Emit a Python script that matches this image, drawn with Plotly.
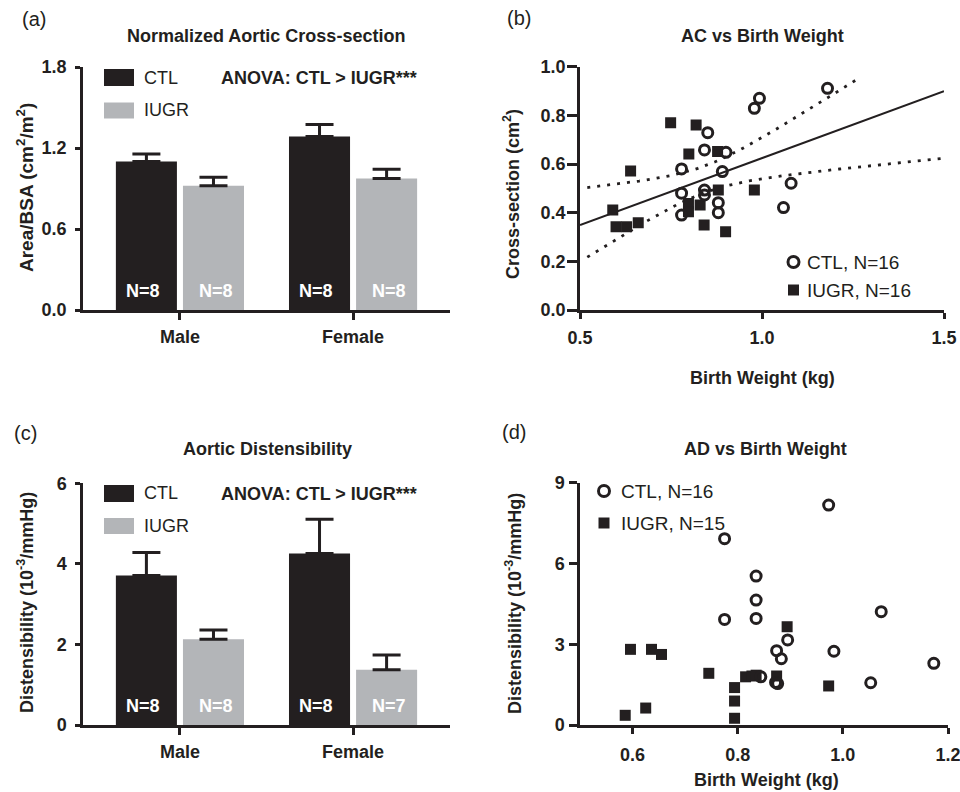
import numpy as np
import plotly.graph_objects as go

W, H = 960, 792
INK = "#231f20"
GRAY = "#b3b5b8"
FONT = "Liberation Sans, Arial, Helvetica, sans-serif"

# ---------------- data ----------------
groups = ["Male", "Female"]

# (a) Normalized aortic cross-section (cm^2/m^2), mean and SEM
ac_ctl_mean = [1.10, 1.285]
ac_ctl_sem = [0.055, 0.09]
ac_iugr_mean = [0.92, 0.975]
ac_iugr_sem = [0.063, 0.067]
ac_ctl_n = [8, 8]
ac_iugr_n = [8, 8]

# (c) Aortic distensibility (10^-3/mmHg), mean and SEM
ad_ctl_mean = [3.71, 4.26]
ad_ctl_sem = [0.57, 0.85]
ad_iugr_mean = [2.13, 1.37]
ad_iugr_sem = [0.23, 0.37]
ad_ctl_n = [8, 8]
ad_iugr_n = [8, 7]

# (b) AC vs birth weight
b_ctl_bw = [1.180, 0.979, 0.993, 0.851, 0.842, 0.901, 0.779, 0.891,
            0.779, 0.842, 0.842, 0.880, 0.779, 0.880, 1.080, 1.059]
b_ctl_ac = [0.911, 0.829, 0.870, 0.729, 0.658, 0.648, 0.580, 0.569,
            0.480, 0.493, 0.473, 0.441, 0.390, 0.400, 0.521, 0.421]
b_iugr_bw = [0.749, 0.819, 0.799, 0.878, 0.639, 0.590, 0.599, 0.628,
             0.660, 0.798, 0.798, 0.830, 0.841, 0.900, 0.880, 0.979]
b_iugr_ac = [0.770, 0.760, 0.641, 0.651, 0.571, 0.411, 0.342, 0.342,
             0.359, 0.438, 0.404, 0.432, 0.349, 0.322, 0.493, 0.493]

# (d) AD vs birth weight
d_ctl_bw = [0.973, 0.775, 0.835, 0.835, 0.835, 0.775, 1.073, 0.895,
            0.874, 0.883, 0.983, 1.173, 0.844, 0.872, 0.876, 1.053]
d_ctl_ad = [8.17, 6.92, 5.53, 4.64, 3.96, 3.92, 4.21, 3.16,
            2.76, 2.46, 2.74, 2.29, 1.79, 1.58, 1.54, 1.57]
d_iugr_bw = [0.596, 0.636, 0.655, 0.586, 0.625, 0.745, 0.794, 0.794,
             0.794, 0.815, 0.827, 0.835, 0.874, 0.894, 0.973]
d_iugr_ad = [2.81, 2.81, 2.62, 0.36, 0.63, 1.92, 1.39, 0.89,
             0.25, 1.79, 1.82, 1.85, 1.82, 3.65, 1.45]

# regression display ranges / stats constant
FIT_X = [0.5, 1.5]
UPPER_BAND_X = [0.52, 1.27]
LOWER_BAND_X = [0.52, 1.5]
T_CRIT_95_DF30 = 2.042


def PX(x):
    return x / W


def PY(y):
    return 1 - y / H


fig = go.Figure()

# ---------------- bar panels ----------------
def add_bars(xa, ya, ctl_m, ctl_e, iugr_m, iugr_e):
    for m, e, col in [(ctl_m, ctl_e, INK), (iugr_m, iugr_e, GRAY)]:
        fig.add_trace(go.Bar(
            x=groups, y=m, marker=dict(color=col, line=dict(width=0)),
            error_y=dict(type="data", array=e, arrayminus=[0] * len(e),
                         symmetric=False, color=INK, thickness=3, width=14),
            xaxis=xa, yaxis=ya, showlegend=False, hoverinfo="skip"))


add_bars("x", "y", ac_ctl_mean, ac_ctl_sem, ac_iugr_mean, ac_iugr_sem)
add_bars("x3", "y3", ad_ctl_mean, ad_ctl_sem, ad_iugr_mean, ad_iugr_sem)

# ---------------- scatter panels ----------------
circ = dict(symbol="circle-open", size=10, line=dict(width=3, color=INK), color=INK)
sq = dict(symbol="square", size=11, color=INK, line=dict(width=0))

x_all = np.array(b_ctl_bw + b_iugr_bw)
y_all = np.array(b_ctl_ac + b_iugr_ac)
slope, intercept = np.polyfit(x_all, y_all, 1)
n = len(x_all)
xbar = x_all.mean()
sxx = ((x_all - xbar) ** 2).sum()
resid = y_all - (intercept + slope * x_all)
s = np.sqrt((resid ** 2).sum() / (n - 2))


def half_width(x):
    return T_CRIT_95_DF30 * s * np.sqrt(1.0 / n + (x - xbar) ** 2 / sxx)


fx = np.array(FIT_X)
fig.add_trace(go.Scatter(x=fx, y=intercept + slope * fx, mode="lines",
                         line=dict(color=INK, width=2), xaxis="x2", yaxis="y2",
                         showlegend=False, hoverinfo="skip"))
ux = np.linspace(UPPER_BAND_X[0], UPPER_BAND_X[1], 80)
lx = np.linspace(LOWER_BAND_X[0], LOWER_BAND_X[1], 100)
fig.add_trace(go.Scatter(x=ux, y=intercept + slope * ux + half_width(ux), mode="lines",
                         line=dict(color=INK, width=2.8, dash="3px,7px"),
                         xaxis="x2", yaxis="y2", showlegend=False, hoverinfo="skip"))
fig.add_trace(go.Scatter(x=lx, y=intercept + slope * lx - half_width(lx), mode="lines",
                         line=dict(color=INK, width=2.8, dash="3px,7px"),
                         xaxis="x2", yaxis="y2", showlegend=False, hoverinfo="skip"))

fig.add_trace(go.Scatter(x=b_iugr_bw, y=b_iugr_ac, mode="markers", marker=sq,
                         xaxis="x2", yaxis="y2", showlegend=False))
fig.add_trace(go.Scatter(x=b_ctl_bw, y=b_ctl_ac, mode="markers", marker=circ,
                         xaxis="x2", yaxis="y2", showlegend=False))
fig.add_trace(go.Scatter(x=d_iugr_bw, y=d_iugr_ad, mode="markers", marker=sq,
                         xaxis="x4", yaxis="y4", showlegend=False))
fig.add_trace(go.Scatter(x=d_ctl_bw, y=d_ctl_ad, mode="markers", marker=circ,
                         xaxis="x4", yaxis="y4", showlegend=False))


# ---------------- axes ----------------
def tfont(size=18):
    return dict(family=FONT, size=size, color=INK, weight="bold")


def axis(domain, anchor, rng=None, ticklen=6, standoff=4, **kw):
    d = dict(domain=domain, anchor=anchor, showline=True, linewidth=2.5,
             linecolor=INK, ticks="outside", ticklen=ticklen, tickwidth=2.5,
             tickcolor=INK, tickfont=tfont(), showgrid=False, zeroline=False,
             ticklabelstandoff=standoff, automargin=False,
             ticklabeloverflow="allow")
    if rng is not None:
        d["range"] = rng
    d.update(kw)
    return d


xa_dom = [PX(83), PX(450)]
fig.update_layout(
    template="none",
    xaxis=axis(xa_dom, "y", [-0.56, 1.56], ticklen=7, standoff=2, type="category"),
    yaxis=axis([PY(310), PY(67)], "x", [0, 1.8], ticklen=5, standoff=5,
               tickvals=[0, 0.6, 1.2, 1.8], tickformat=".1f"),
    xaxis3=axis(xa_dom, "y3", [-0.56, 1.56], ticklen=7, standoff=2, type="category"),
    yaxis3=axis([PY(725), PY(483.3)], "x3", [0, 6], ticklen=5, standoff=5,
                tickvals=[0, 2, 4, 6]),
    xaxis2=axis([PX(580), PX(944)], "y2", [0.5, 1.5], ticklen=6, standoff=4,
                tickvals=[0.5, 1.0, 1.5], tickformat=".1f"),
    yaxis2=axis([PY(310), PY(66.7)], "x2", [0, 1.0], ticklen=10, standoff=-2,
                tickvals=[0, 0.2, 0.4, 0.6, 0.8, 1.0], tickformat=".1f"),
    xaxis4=axis([PX(580), PX(948)], "y4", [0.5, 1.2], ticklen=6, standoff=6,
                tickvals=[0.6, 0.8, 1.0, 1.2], tickformat=".1f"),
    yaxis4=axis([PY(725), PY(482.7)], "x4", [0, 9], ticklen=8, standoff=1,
                tickvals=[0, 3, 6, 9]),
)

fig.update_layout(
    width=W, height=H, margin=dict(l=0, r=0, t=0, b=0, pad=0),
    paper_bgcolor="white", plot_bgcolor="white",
    barmode="group", bargap=0.225, bargroupgap=0.09,
    font=dict(family=FONT, color=INK),
    showlegend=False,
)

ann = []
shapes = []


def text(x, y, t, size=18, bold=True, xanchor="center", angle=0, color=INK):
    ann.append(dict(x=PX(x), y=PY(y), xref="paper", yref="paper", text=t,
                    showarrow=False, xanchor=xanchor, yanchor="middle",
                    textangle=angle,
                    font=dict(family=FONT, size=size, color=color,
                              weight="bold" if bold else "normal")))


# panel labels
text(20, 19, "(a)", 20, False, "left")
text(505, 18, "(b)", 20, False, "left")
text(12, 433, "(c)", 20, False, "left")
text(500, 432, "(d)", 20, False, "left")

# titles
text(266, 36, "Normalized Aortic Cross-section")
text(762, 36, "AC vs Birth Weight")
text(267, 449, "Aortic Distensibility")
text(765, 449, "AD vs Birth Weight")

# axis titles
text(25, 188, "Area/BSA (cm<sup>2</sup>/m<sup>2</sup>)", size=19, angle=-90)
text(512, 194, "Cross-section (cm<sup>2</sup>)", angle=-90)
text(25, 603, "Distensibility (10<sup>-3</sup>/mmHg)", angle=-90)
text(513, 604, "Distensibility (10<sup>-3</sup>/mmHg)", angle=-90)
text(762, 378, "Birth Weight (kg)")
text(766, 780, "Birth Weight (kg)")

# ANOVA
text(318.5, 78, "ANOVA: CTL > IUGR***")
text(318.5, 494, "ANOVA: CTL > IUGR***")


# bar legends
def bar_legend(y1, y2):
    shapes.append(dict(type="rect", xref="paper", yref="paper", x0=PX(104), x1=PX(134),
                       y0=PY(y1 + 8.5), y1=PY(y1 - 8.5), fillcolor=INK, line=dict(width=0)))
    shapes.append(dict(type="rect", xref="paper", yref="paper", x0=PX(104), x1=PX(134),
                       y0=PY(y2 + 8), y1=PY(y2 - 8), fillcolor=GRAY, line=dict(width=0)))
    text(142, y1, "CTL", 18, False, "left")
    text(142, y2, "IUGR", 18, False, "left")


bar_legend(77.5, 110.5)
bar_legend(493.5, 526)


# scatter legends
def sc_legend(cx, y1, y2, tx, lab1, lab2):
    shapes.append(dict(type="circle", xref="paper", yref="paper",
                       x0=PX(cx - 5.5), x1=PX(cx + 5.5), y0=PY(y1 + 5.5), y1=PY(y1 - 5.5),
                       line=dict(color=INK, width=3)))
    shapes.append(dict(type="rect", xref="paper", yref="paper",
                       x0=PX(cx - 5.5), x1=PX(cx + 5.5), y0=PY(y2 + 5.5), y1=PY(y2 - 5.5),
                       fillcolor=INK, line=dict(width=0)))
    text(tx, y1, lab1, 19, False, "left")
    text(tx, y2, lab2, 19, False, "left")


sc_legend(793.5, 262, 290, 805, f"CTL, N={len(b_ctl_bw)}", f"IUGR, N={len(b_iugr_bw)}")
sc_legend(604, 491, 523, 619, f"CTL, N={len(d_ctl_bw)}", f"IUGR, N={len(d_iugr_bw)}")

# N labels inside bars
for xa, ya, cn, iN in [("x", "y", ac_ctl_n, ac_iugr_n), ("x3", "y3", ad_ctl_n, ad_iugr_n)]:
    for i, g in enumerate(groups):
        for nval, shift in [(cn[i], -37), (iN[i], 36)]:
            ann.append(dict(x=g, y=0, xref=xa, yref=ya, text=f"N={nval}",
                            showarrow=False, xanchor="center", yanchor="bottom",
                            xshift=shift, yshift=7,
                            font=dict(family=FONT, size=18, color="white", weight="bold")))

fig.update_layout(annotations=ann, shapes=shapes)
fig.write_html("out.html", config={"displayModeBar": False},
               post_script="document.body.style.margin='0px';document.body.style.overflow='hidden';")
